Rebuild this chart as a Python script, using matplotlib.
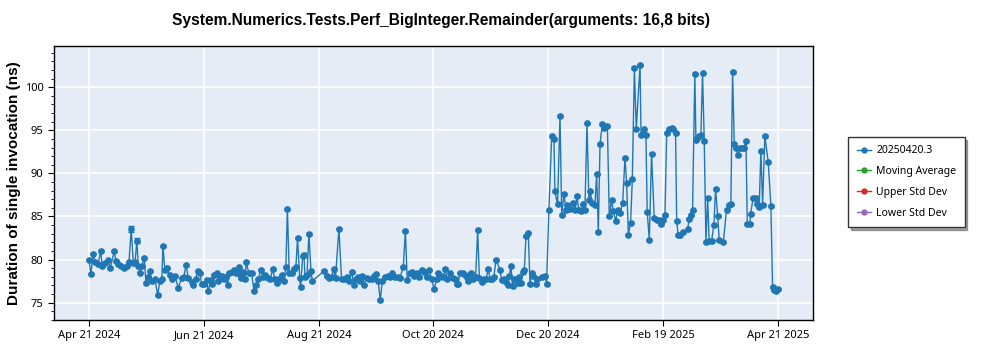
import datetime
import matplotlib
matplotlib.use('Agg')
import matplotlib.pyplot as plt
import matplotlib.dates as mdates
from matplotlib.lines import Line2D

plt.rcParams['font.family'] = ['Noto Sans', 'DejaVu Sans']

start_date = datetime.date(2024, 4, 21)

# day offsets from start_date and measured durations (ns)
days = [
    0.0, 1.0, 2.3, 3.2, 4.9, 6.2, 7.1, 8.5, 10.2, 11.3, 13.4, 14.3, 15.5, 17.0, 18.7, 19.9,
    21.2, 22.4, 23.5, 24.4, 25.4, 26.1, 27.0, 27.9, 29.3, 30.2, 31.4, 32.3, 33.2, 35.0, 36.4,
    37.6, 38.6, 39.2, 40.2, 41.4, 42.9, 44.1, 45.6, 47.3, 49.1, 50.3, 51.4, 52.6, 54.4, 55.3,
    56.5, 57.6, 58.8, 59.7, 61.1, 62.3, 63.2, 64.4, 65.3, 66.4, 67.6, 68.5, 69.6, 70.6, 71.7,
    72.4, 73.4, 74.3, 75.6, 76.6, 77.7, 78.7, 79.6, 80.5, 81.7, 82.6, 83.3, 84.7, 86.2, 87.4,
    88.5, 89.7, 91.1, 92.3, 93.2, 94.6, 96.0, 97.3, 98.5, 99.4, 100.6, 102.0, 103.3, 104.3,
    105.1, 106.1, 107.7, 108.7, 109.6, 110.5, 111.6, 112.1, 113.2, 113.9, 114.4, 115.5, 116.5,
    117.6, 118.3, 124.6, 125.9, 127.1, 128.5, 129.6, 130.6, 132.4, 133.8, 135.2, 136.5, 137.9,
    139.1, 140.3, 141.2, 142.6, 143.5, 144.8, 145.6, 147.1, 148.5, 149.7, 150.8, 151.8, 153.2,
    154.3, 155.4, 156.8, 158.2, 159.4, 160.7, 162.1, 163.5, 164.7, 166.5, 167.6, 168.6, 170.0,
    171.3, 172.3, 173.6, 174.8, 176.2, 177.6, 178.9, 180.3, 181.5, 182.8, 184.2, 185.0, 186.5,
    187.7, 188.6, 189.8, 191.2, 192.6, 193.9, 194.8, 195.6, 196.5, 197.9, 199.2, 200.1, 201.0,
    202.3, 203.6, 204.8, 205.9, 206.8, 208.0, 209.2, 210.3, 211.5, 212.4, 213.6, 214.5, 215.6,
    217.7, 218.6, 219.8, 220.9, 221.8, 222.6, 223.5, 224.4, 225.3, 226.5, 227.4, 227.9, 228.8,
    229.7, 230.6, 231.5, 232.7, 233.6, 234.5, 235.3, 236.8, 237.5, 239.8, 241.5, 242.4, 243.6,
    245.1, 246.3, 246.8, 248.2, 249.5, 250.4, 251.6, 252.7, 253.4, 254.8, 256.2, 257.4, 258.5,
    259.4, 260.6, 261.8, 262.7, 263.8, 264.8, 265.5, 266.6, 268.0, 268.9, 269.8, 270.7, 271.9,
    273.0, 274.6, 275.6, 276.8, 277.7, 279.0, 280.0, 281.3, 282.7, 283.9, 284.8, 285.7, 286.9,
    287.8, 288.9, 289.9, 291.9, 292.4, 293.3, 294.2, 295.0, 295.7, 296.8, 298.0, 299.4, 300.7,
    301.9, 303.0, 304.2, 305.1, 306.0, 307.4, 308.6, 309.5, 310.7, 311.3, 312.1, 313.3, 314.4,
    317.1, 317.9, 318.8, 319.7, 320.9, 321.5, 322.2, 323.2, 324.1, 325.0, 325.9, 326.8, 327.7,
    328.5, 329.8, 331.0, 331.9, 333.0, 333.8, 336.0, 337.7, 339.0, 340.0, 340.9, 341.8, 342.7,
    343.7, 344.8, 346.0, 346.9, 348.0, 348.7, 350.1, 350.4, 351.8, 353.2, 354.0, 355.0, 355.9,
    356.8, 358.0, 359.8, 361.2, 362.1, 363.0, 363.8, 364.7,
]
values = [
    80.0, 78.3, 80.7, 79.7, 79.5, 81.0, 79.2, 79.6, 79.9, 79.0, 81.0, 79.8, 79.5, 79.2, 79.0, 79.3,
    79.7, 83.5, 79.6, 79.7, 82.2, 79.3, 78.5, 79.2, 80.2, 77.3, 78.0, 78.7, 77.5, 77.7, 75.9,
    77.5, 77.7, 81.6, 78.8, 79.0, 78.2, 77.8, 78.1, 76.7, 77.9, 78.0, 79.4, 77.9, 77.4, 77.1,
    77.7, 78.7, 78.4, 77.2, 77.2, 77.6, 76.3, 77.6, 77.2, 78.2, 78.4, 77.5, 77.9, 78.1, 77.7,
    78.0, 77.0, 78.4, 78.6, 78.8, 78.4, 78.5, 79.1, 77.9, 78.6, 77.7, 79.7, 78.4, 78.4, 76.4,
    77.0, 77.7, 78.8, 78.0, 78.2, 77.9, 77.7, 78.9, 77.7, 77.3, 77.7, 78.2, 77.5, 79.1,
    85.9, 78.4, 78.4, 78.9, 79.1, 82.5, 77.9, 76.8, 80.4, 80.5, 78.0, 78.2, 83.0,
    78.7, 77.5, 78.7, 78.1, 77.9, 78.0, 78.9, 77.9, 83.6, 77.7, 77.7, 78.0, 77.5,
    78.6, 77.0, 77.7, 78.0, 77.5, 78.1, 77.1, 77.9, 77.7, 77.7, 78.1, 78.3, 77.5,
    75.3, 77.5, 78.0, 78.1, 78.0, 78.4, 78.0, 78.0, 77.9, 79.1, 83.3, 77.6, 78.4,
    78.6, 78.1, 78.4, 78.0, 78.8, 78.6, 78.0, 78.8, 77.7, 76.6, 77.7, 78.5, 78.1,
    78.0, 78.9, 77.7, 78.4, 77.9, 77.7, 77.2, 77.2, 78.5, 78.5, 78.2, 78.0, 77.5,
    78.5, 77.7, 78.0, 83.4, 77.9, 77.4, 77.7, 77.7, 78.9, 77.8, 77.8, 78.0, 80.0,
    78.8, 77.6, 77.8, 77.4, 77.1, 78.1, 79.2, 76.9, 77.8, 77.8, 77.3, 78.0, 77.3,
    78.6, 78.8, 82.7, 83.1, 77.2, 78.4, 78.1, 77.2, 77.7, 78.0, 78.1, 77.2, 85.7,
    94.3, 94.0, 87.9, 86.4, 96.7, 85.2, 87.6, 85.8, 86.3, 85.9, 86.6, 85.7, 87.4,
    85.8, 85.6, 86.4, 85.8, 95.8, 86.9, 87.9, 86.6, 86.3, 89.9, 83.2, 93.4, 95.7,
    95.3, 95.5, 85.0, 86.9, 85.6, 84.5, 85.8, 85.4, 86.6, 91.8, 88.9, 82.9, 84.3,
    89.3, 102.2, 95.2, 102.6, 94.5, 94.6, 95.1, 94.5, 85.5, 82.3, 92.3, 84.8, 84.6,
    84.6, 84.1, 84.6, 85.2, 94.7, 95.1, 95.3, 95.1, 94.7, 84.5, 82.8, 82.9, 83.2,
    83.5, 84.7, 85.2, 85.7, 101.5, 93.9, 94.1, 94.3, 94.4, 101.6, 93.8, 82.0, 87.2,
    82.2, 82.2, 84.0, 88.2, 85.1, 82.3, 82.0, 85.8, 86.3, 86.4, 101.8, 93.4, 92.9,
    92.1, 92.9, 92.9, 93.0, 93.8, 84.1, 84.1, 85.3, 87.1, 87.1, 86.5, 86.1, 92.6,
    86.3, 94.3, 91.3, 86.2, 76.8, 76.5, 76.4, 76.6,
]
# a few points with visibly larger error bars
wide_err_days = [22.4, 25.4, 113.9]
wide_err_sizes = [0.35, 0.3, 0.25]

tick_dates = ['2024-04-21', '2024-06-21', '2024-08-21', '2024-10-20',
              '2024-12-20', '2025-02-19', '2025-04-21']
legend_labels = ['20250420.3', 'Moving Average', 'Upper Std Dev', 'Lower Std Dev']
legend_colors = ['#1f77b4', '#2ca02c', '#d62728', '#9467bd']

base = mdates.date2num(start_date)
x = [base + d for d in days]
yerr = [0.1] * len(days)
for d, e in zip(wide_err_days, wide_err_sizes):
    yerr[days.index(d)] = e

fig = plt.figure(figsize=(10, 3.5), dpi=100)
ax = fig.add_axes([0.054, 0.086, 0.759, 0.783])
ax.set_facecolor('#e5ecf6')
ax.grid(True, color='white', linewidth=1.2)
ax.set_axisbelow(True)

ax.errorbar(x, values, yerr=yerr, color='#1f77b4', linewidth=1, marker='o',
            markersize=3.8, capsize=2.3, elinewidth=1, capthick=1)

ax.set_xlim(base - 18.5, base + 383.5)
ax.set_ylim(73.0, 104.8)
ax.set_yticks([75, 80, 85, 90, 95, 100])
ax.set_yticks(range(73, 105), minor=True)
ax.set_xticks([mdates.datestr2num(t) for t in tick_dates])
ax.xaxis.set_major_formatter(mdates.DateFormatter('%b %d %Y'))
ax.tick_params(labelsize=8, length=4)
ax.tick_params(which='minor', length=2)
ax.grid(False, which='minor')
for s in ax.spines.values():
    s.set_linewidth(1)

bold_font = ['Liberation Sans', 'DejaVu Sans']
ax.set_ylabel('Duration of single invocation (ns)', fontsize=11, fontweight='bold',
              family=bold_font, labelpad=3)
ax.set_title('System.Numerics.Tests.Perf_BigInteger.Remainder(arguments: 16,8 bits)',
             fontsize=11.2, fontweight='bold', family=bold_font, pad=15, x=0.51)

handles = [Line2D([], [], color=c, marker='o', markersize=3.5, linewidth=1) for c in legend_colors]
leg = fig.legend(handles, legend_labels, loc='center left', bbox_to_anchor=(0.843, 0.48),
                 fontsize=7.5, frameon=True, fancybox=False, shadow=True,
                 handlelength=1.4, handletextpad=0.5, borderpad=0.8, labelspacing=0.95)
leg.get_frame().set_edgecolor('#333333')
leg.get_frame().set_linewidth(1)

plt.savefig('out.png', dpi=100)
